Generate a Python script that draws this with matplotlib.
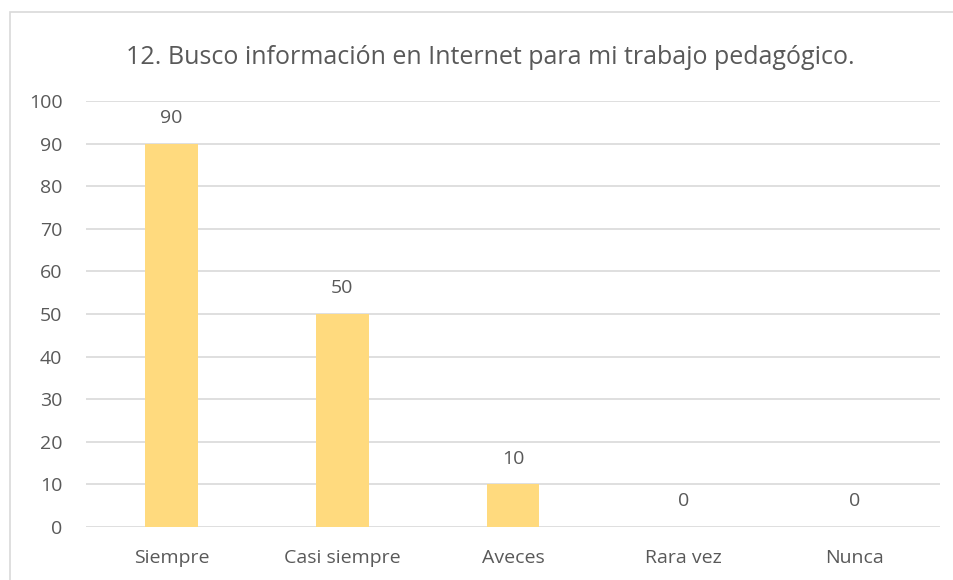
import matplotlib
matplotlib.use("Agg")
import matplotlib.pyplot as plt
from matplotlib.patches import Rectangle

categories = ["Siempre", "Casi siempre", "Aveces", "Rara vez", "Nunca"]
values = [90, 50, 10, 0, 0]
yticks = [0, 10, 20, 30, 40, 50, 60, 70, 80, 90, 100]
title = "12. Busco información en Internet para mi trabajo pedagógico."

TEXT = "#595959"
GRID = "#d9d9d9"
BAR = "#FFDA7E"

plt.rcParams["font.family"] = ["Open Sans", "DejaVu Sans"]

fig = plt.figure(figsize=(9.54, 5.8), dpi=100)
# outer chart border (left and top visible, rest clipped)
fig.patches.append(Rectangle((10 / 954, -0.05), 1.2, (580 - 12) / 580 + 0.05,
                             transform=fig.transFigure, fill=False,
                             edgecolor=GRID, lw=1.2))

ax = fig.add_axes([86 / 954, 1 - 527 / 580, (940 - 86) / 954, (527 - 101) / 580])
x = range(len(categories))
ax.bar(x, values, width=0.31, color=BAR, zorder=3)
for i, v in zip(x, values):
    ax.text(i, v + 6, str(v), ha="center", va="center", fontsize=14, color=TEXT)

ax.set_xlim(-0.5, len(categories) - 0.5)
ax.set_ylim(0, 100)
ax.set_yticks(yticks)
ax.set_xticks(list(x))
ax.set_xticklabels(categories)
ax.tick_params(axis="both", length=0, labelsize=14, labelcolor=TEXT)
ax.tick_params(axis="x", pad=16)
ax.tick_params(axis="y", pad=17)
ax.grid(axis="y", color=GRID, lw=1.2, zorder=0)
for s in ax.spines.values():
    s.set_visible(False)

fig.text(490 / 954, 1 - 57 / 580, title, ha="center", va="center",
         fontsize=18, color=TEXT)

fig.savefig("out.png", dpi=100)
